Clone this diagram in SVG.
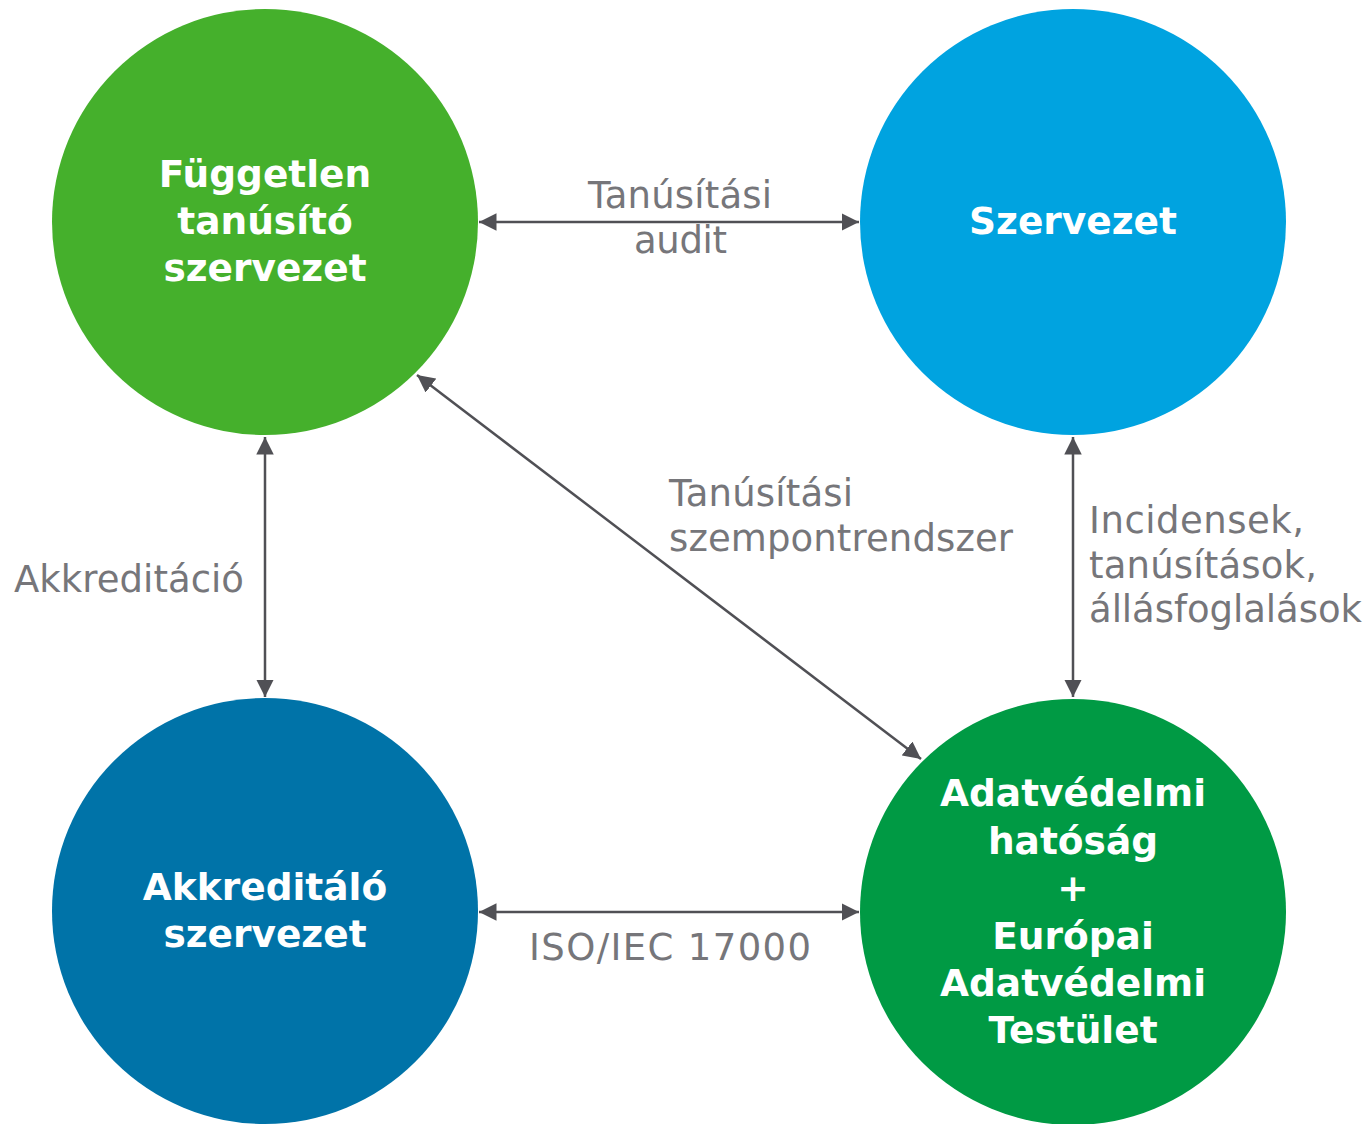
<svg xmlns="http://www.w3.org/2000/svg" width="1371" height="1124" viewBox="0 0 1371 1124">
<defs>
<style>
.node text{font-family:"DejaVu Sans","Liberation Sans",sans-serif;font-weight:bold;font-size:37.5px;fill:#ffffff;text-anchor:middle}
.lbl{font-family:"DejaVu Sans","Liberation Sans",sans-serif;font-size:37px;fill:#76767a}
.edge{stroke:#505055;stroke-width:2.5;fill:none;marker-start:url(#ah);marker-end:url(#ah)}
</style>
<marker id="ah" viewBox="0 0 10 10" refX="10" refY="5" markerWidth="7" markerHeight="7" orient="auto-start-reverse" markerUnits="strokeWidth">
<path d="M0,0 L10,5 L0,10 z" fill="#505055"/>
</marker>
</defs>
<rect width="1371" height="1124" fill="#ffffff"/>
<g id="n-fuggetlen" class="node">
<circle cx="265" cy="222" r="213" fill="#45b02c"/>
<text x="265" y="187">Független</text>
<text x="265" y="234">tanúsító</text>
<text x="265" y="281">szervezet</text>
</g>
<g id="n-szervezet" class="node">
<circle cx="1073" cy="222" r="213" fill="#00a3e0"/>
<text x="1073" y="234">Szervezet</text>
</g>
<g id="n-akkreditalo" class="node">
<circle cx="265" cy="911" r="213" fill="#0073a8"/>
<text x="265" y="900">Akkreditáló</text>
<text x="265" y="947">szervezet</text>
</g>
<g id="n-adatvedelmi" class="node">
<circle cx="1073" cy="912" r="213" fill="#009a44"/>
<text x="1073" y="806">Adatvédelmi</text>
<text x="1073" y="854">hatóság</text>
<text x="1073" y="901">+</text>
<text x="1073" y="949">Európai</text>
<text x="1073" y="996">Adatvédelmi</text>
<text x="1073" y="1043">Testület</text>
</g>
<g id="connectors">
<line class="edge" x1="479" y1="222" x2="859" y2="222"/>
<line class="edge" x1="479" y1="912" x2="859" y2="912"/>
<line class="edge" x1="265" y1="437" x2="265" y2="697"/>
<line class="edge" x1="1073" y1="437" x2="1073" y2="697"/>
<line class="edge" x1="417" y1="375" x2="921" y2="759"/>
</g>
<g id="labels">
<text class="lbl" x="588" y="208" textLength="184" lengthAdjust="spacing">Tanúsítási</text>
<text class="lbl" x="634" y="253" textLength="93" lengthAdjust="spacing">audit</text>
<text class="lbl" x="14" y="592" textLength="230" lengthAdjust="spacing">Akkreditáció</text>
<text class="lbl" x="669" y="506" textLength="184" lengthAdjust="spacing">Tanúsítási</text>
<text class="lbl" x="669" y="551" textLength="344" lengthAdjust="spacing">szempontrendszer</text>
<text class="lbl" x="1089" y="533" textLength="215" lengthAdjust="spacing">Incidensek,</text>
<text class="lbl" x="1089" y="578" textLength="228" lengthAdjust="spacing">tanúsítások,</text>
<text class="lbl" x="1089" y="622" textLength="273" lengthAdjust="spacing">állásfoglalások</text>
<text class="lbl" x="529" y="960" textLength="282" lengthAdjust="spacing">ISO/IEC 17000</text>
</g>
</svg>
